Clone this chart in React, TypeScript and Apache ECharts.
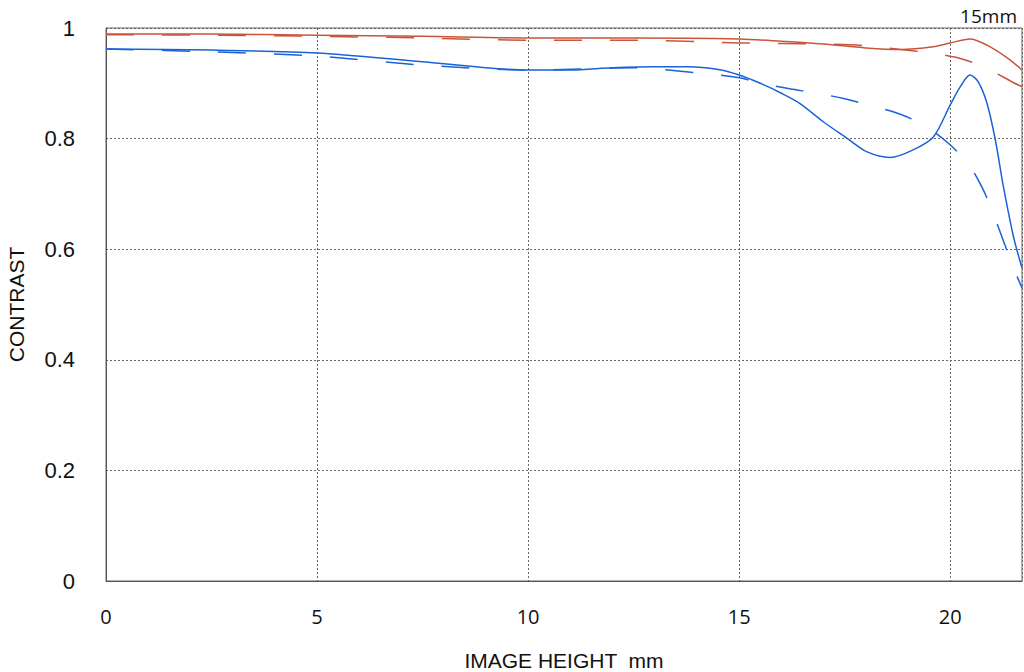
import React, { useEffect, useRef } from "react";
import * as echarts from "echarts";

const redSolidX = [0, 2.5, 5, 7.5, 10, 12.5, 15, 16, 17, 18, 18.82, 19.6, 20, 20.47, 20.87, 21.35, 21.7];
const redSolid = [0.989, 0.989, 0.987, 0.985, 0.982, 0.982, 0.98, 0.976, 0.971, 0.964, 0.961, 0.966, 0.973, 0.98, 0.969, 0.946, 0.924];

const redDashedX = [0, 2.5, 5, 7.5, 10, 12.5, 15, 16, 17, 18, 18.82, 19.6, 20.28, 20.9, 21.5, 21.7];
const redDashed = [0.988, 0.987, 0.985, 0.982, 0.978, 0.978, 0.973, 0.972, 0.971, 0.968, 0.961, 0.954, 0.944, 0.926, 0.901, 0.894];

const blueSolidX = [0, 2.5, 5, 7.5, 10, 11, 12, 13, 13.8, 14.5, 15, 15.5, 16, 16.45, 17, 17.55, 18.03, 18.58, 19.13, 19.6, 20.0, 20.24, 20.47, 20.66, 20.87, 21.07, 21.26, 21.5, 21.7];
const blueSolid = [0.962, 0.96, 0.955, 0.939, 0.924, 0.924, 0.928, 0.93, 0.93, 0.925, 0.915, 0.9, 0.882, 0.863, 0.83, 0.801, 0.776, 0.766, 0.78, 0.803, 0.861, 0.894, 0.915, 0.903, 0.864, 0.797, 0.713, 0.622, 0.566];

const blueDashedX = [0, 2.5, 5, 7.5, 10, 12.5, 14, 15, 15.5, 16.2, 16.85, 17.5, 18.15, 18.82, 19.4, 19.95, 20.43, 20.76, 21.02, 21.26, 21.5, 21.7];
const blueDashed = [0.962, 0.957, 0.949, 0.933, 0.924, 0.928, 0.919, 0.91, 0.9, 0.89, 0.882, 0.872, 0.859, 0.844, 0.823, 0.792, 0.754, 0.711, 0.664, 0.615, 0.566, 0.53];

const xMax = 21.7;
const focalLabel = "15mm";
const xTitle = "IMAGE HEIGHT  mm";
const yTitle = "CONTRAST";

const RED = "#c8553a";
const BLUE = "#1a62d8";

const pairs = (xs: number[], ys: number[]) => xs.map((x, i) => [x, ys[i]]);

export default function App() {
  const ref = useRef<HTMLDivElement>(null);
  useEffect(() => {
    if (!ref.current) return;
    const chart = echarts.init(ref.current, undefined, { renderer: "svg" });
    const sans = "'Liberation Sans', Arial, sans-serif";
    const open = "'Open Sans', sans-serif";
    const lineSeries = (data: number[][], color: string, dashed: boolean) => ({
      type: "line",
      data,
      smooth: 0.3,
      showSymbol: false,
      symbol: "none",
      lineStyle: { color, width: 1.5, type: dashed ? [28, 28] : "solid" },
      z: dashed ? 3 : 4,
    });
    chart.setOption({
      animation: false,
      textStyle: { fontFamily: sans },
      title: {
        text: focalLabel,
        right: 2,
        top: 1,
        textStyle: { fontSize: 19, fontWeight: "normal", color: "#111", fontFamily: open },
      },
      grid: {
        left: 106,
        right: 2,
        top: 28,
        bottom: 91,
        show: true,
        borderColor: "#666",
        borderWidth: 1,
        containLabel: false,
        outerBoundsMode: "none",
      },
      xAxis: {
        type: "value",
        min: 0,
        max: xMax,
        interval: 5,
        name: xTitle,
        nameLocation: "middle",
        nameGap: 69,
        nameTextStyle: { fontSize: 21, color: "#111", fontFamily: sans },
        axisLine: { show: true, lineStyle: { color: "#555" } },
        axisTick: { show: false },
        axisLabel: { fontSize: 20, color: "#111", margin: 25, showMaxLabel: false, fontFamily: open },
        splitLine: { show: true, lineStyle: { color: "#666", type: [2, 2], width: 1 } },
      },
      yAxis: {
        type: "value",
        min: 0,
        max: 1,
        interval: 0.2,
        name: yTitle,
        nameLocation: "middle",
        nameRotate: 90,
        nameGap: 79,
        nameTextStyle: { fontSize: 21, color: "#111", fontFamily: sans },
        axisLine: { show: true, lineStyle: { color: "#555" } },
        axisTick: { show: false },
        axisLabel: { fontSize: 22, color: "#111", margin: 31, fontFamily: sans },
        splitLine: { show: true, lineStyle: { color: "#666", type: [2, 2], width: 1 } },
      },
      series: [
        lineSeries(pairs(redDashedX, redDashed), RED, true),
        lineSeries(pairs(redSolidX, redSolid), RED, false),
        lineSeries(pairs(blueDashedX, blueDashed), BLUE, true),
        lineSeries(pairs(blueSolidX, blueSolid), BLUE, false),
      ],
    });
    return () => chart.dispose();
  }, []);
  return <div ref={ref} style={{ width: 1024, height: 672, position: "absolute", left: 0, top: 0 }} />;
}
